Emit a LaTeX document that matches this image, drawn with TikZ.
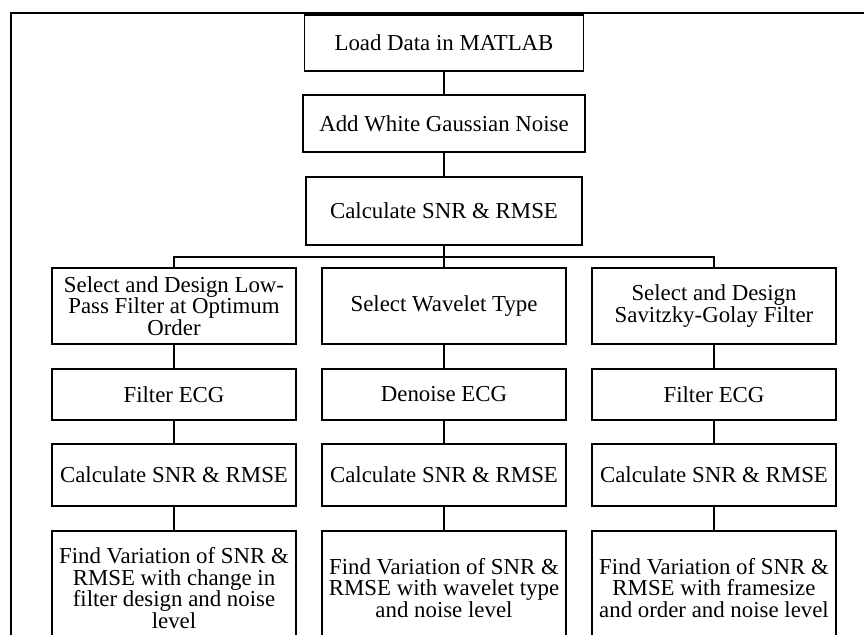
\documentclass[tikz,border=0pt]{standalone}
\usepackage{fontspec}
\setmainfont{Liberation Serif}
\usepackage{tikz}
\tikzset{
	box/.style 2 args={rectangle,draw,line width=1pt,minimum width=#1cm,minimum height=#2cm,align=center,inner sep=2pt,font=\fontsize{13}{12.3}\selectfont},
	link/.style={line width=1pt}
}

\begin{document}
\begin{tikzpicture}
	\clip (0,0) rectangle (17.28,-12.7);
	\draw [line width=1pt] (0.22,-12.8) -- (0.22,-0.26) -- (17.4,-0.26);

	\node [box={5.58}{1.12}] (load) at (8.88,-0.86) {Load Data in MATLAB};
	\node [box={5.64}{1.14}] (noise) at (8.88,-2.47) {Add White Gaussian Noise};
	\node [box={5.52}{1.36}] (snr) at (8.88,-4.22) {Calculate SNR \& RMSE};
	\coordinate (bus) at (8.88,-5.14);

	\node [box={4.88}{1.52}] (lpf) at (3.48,-6.12) {Select and Design Low-\\Pass Filter at Optimum\\Order};
	\node [box={4.88}{1.52}] (wav) at (8.88,-6.12) {Select Wavelet Type};
	\node [box={4.88}{1.52}] (sg) at (14.28,-6.12) {Select and Design\\Savitzky-Golay Filter};

	\node [box={4.88}{1.02}] (lpffilt) at (3.48,-7.89) {Filter ECG};
	\node [box={4.88}{1.02}] (wavden) at (8.88,-7.89) {Denoise ECG};
	\node [box={4.88}{1.02}] (sgfilt) at (14.28,-7.89) {Filter ECG};

	\node [box={4.88}{1.24}] (lpfsnr) at (3.48,-9.5) {Calculate SNR \& RMSE};
	\node [box={4.88}{1.24}] (wavsnr) at (8.88,-9.5) {Calculate SNR \& RMSE};
	\node [box={4.88}{1.24}] (sgsnr) at (14.28,-9.5) {Calculate SNR \& RMSE};

	\node [box={4.88}{2.28}] (lpfvar) at (3.48,-11.76) {Find Variation of SNR \&\\RMSE with change in\\filter design and noise\\level};
	\node [box={4.88}{2.28}] (wavvar) at (8.88,-11.76) {Find Variation of SNR \&\\RMSE with wavelet type\\and noise level};
	\node [box={4.88}{2.28}] (sgvar) at (14.28,-11.76) {Find Variation of SNR \&\\RMSE with framesize\\and order and noise level};

	\draw [link] (load) -- (noise);
	\draw [link] (noise) -- (snr);
	\draw [link] (snr) -- (bus);
	\draw [link] (bus) -| (lpf);
	\draw [link] (bus) -| (sg);
	\draw [link] (bus) -- (wav);

	\draw [link] (lpf) -- (lpffilt) -- (lpfsnr) -- (lpfvar);
	\draw [link] (wav) -- (wavden) -- (wavsnr) -- (wavvar);
	\draw [link] (sg) -- (sgfilt) -- (sgsnr) -- (sgvar);
\end{tikzpicture}
\end{document}
